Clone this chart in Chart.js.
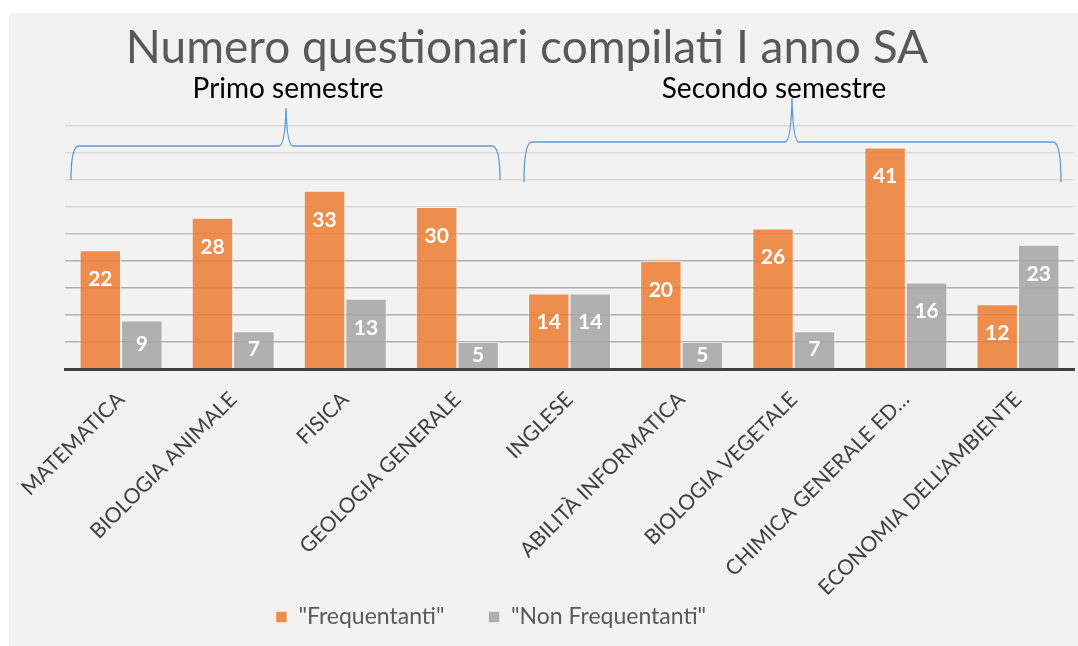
<!DOCTYPE html>
<html>
<head>
<meta charset="utf-8">
<script src="https://cdn.jsdelivr.net/npm/chart.js@4.4.1/dist/chart.umd.min.js"></script>
<style>
  html, body { margin: 0; padding: 0; background: #fff; overflow: hidden; }
  #wrap { width: 1078px; height: 646px; }
  canvas { display: block; }
</style>
</head>
<body>
<div id="wrap"><canvas id="chart" width="1078" height="646"></canvas></div>
<script>
// ---------------- DATI ----------------
const courses = [
  'MATEMATICA', 'BIOLOGIA ANIMALE', 'FISICA', 'GEOLOGIA GENERALE',
  'INGLESE', 'ABILITÀ INFORMATICA', 'BIOLOGIA VEGETALE',
  'CHIMICA GENERALE ED…', "ECONOMIA DELL'AMBIENTE"
];
const frequentanti = [22, 28, 33, 30, 14, 20, 26, 41, 12];
const nonFrequentanti = [9, 7, 13, 5, 14, 5, 7, 16, 23];
const seriesNames = ['"Frequentanti"', '"Non Frequentanti"'];
const semesters = ['Primo semestre', 'Secondo semestre'];
const chartTitle = 'Numero questionari compilati I anno SA';

const FONT = 'Lato, "Open Sans", sans-serif';

// sfondo grigio del pannello
const panelBg = {
  id: 'panelBg',
  beforeDraw(chart) {
    const { ctx, width, height } = chart;
    ctx.save();
    ctx.fillStyle = '#ffffff';
    ctx.fillRect(0, 0, width, height);
    ctx.fillStyle = '#f2f2f2';
    ctx.fillRect(9, 13, width - 9, height - 13);
    ctx.restore();
  }
};

// sposta la legenda come nell'originale (centro x 491, testo a y 617)
const legendShift = {
  id: 'legendShift',
  afterLayout(chart) {
    const lg = chart.legend;
    if (!lg) return;
    const lab = lg.options.labels;
    const itemH = Math.max(lab.boxHeight, lab.font.size);
    const dx = 491 - (lg.left + lg.right) / 2;
    const dy = 617 - (lg.top + lab.padding + itemH / 2);
    lg.left += dx; lg.right += dx;
    lg.top += dy; lg.bottom += dy;
  }
};

// etichette bianche dentro le barre
const barLabels = {
  id: 'barLabels',
  afterDatasetsDraw(chart) {
    const { ctx } = chart;
    ctx.save();
    ctx.fillStyle = '#ffffff';
    ctx.font = 'bold 21px ' + FONT;
    ctx.textAlign = 'center';
    ctx.textBaseline = 'middle';
    chart.data.datasets.forEach((ds, di) => {
      chart.getDatasetMeta(di).data.forEach((bar, i) => {
        const top = bar.y, base = bar.base;
        const y = Math.min(top + 29, (top + base) / 2);
        ctx.fillText(String(ds.data[i]), bar.x, y);
      });
    });
    ctx.restore();
  }
};

// titolo, semestri e parentesi graffe
function drawBrace(ctx, x1, x2, peakX, yLine, yBottom, yPeak) {
  const r = 8;
  ctx.beginPath();
  ctx.moveTo(x1, yBottom);
  ctx.quadraticCurveTo(x1, yLine, x1 + r, yLine);
  ctx.lineTo(peakX - 7, yLine);
  ctx.quadraticCurveTo(peakX - 1, yLine, peakX, yPeak);
  ctx.quadraticCurveTo(peakX + 1, yLine, peakX + 7, yLine);
  ctx.lineTo(x2 - r, yLine);
  ctx.quadraticCurveTo(x2, yLine, x2, yBottom);
  ctx.stroke();
}

const annotations = {
  id: 'annotations',
  afterDraw(chart) {
    const { ctx } = chart;
    ctx.save();
    ctx.fillStyle = '#595959';
    ctx.font = '46px ' + FONT;
    ctx.textAlign = 'center';
    ctx.textBaseline = 'alphabetic';
    ctx.fillText(chartTitle, 527, 63);

    ctx.fillStyle = '#000000';
    ctx.font = '28px ' + FONT;
    ctx.fillText(semesters[0], 288, 98);
    ctx.fillText(semesters[1], 774, 98);

    ctx.strokeStyle = '#5b9bd5';
    ctx.lineWidth = 1.3;
    drawBrace(ctx, 71, 500, 286, 146, 180, 108);
    drawBrace(ctx, 524, 1061, 792, 142, 182, 98);
    ctx.restore();
  }
};

const ctx = document.getElementById('chart').getContext('2d');

new Chart(ctx, {
  type: 'bar',
  data: {
    labels: courses,
    datasets: [{
      label: seriesNames[0],
      data: frequentanti,
      backgroundColor: 'rgba(237,125,49,0.85)',
      borderColor: 'rgba(255,255,255,0.45)',
      borderWidth: 1,
      categoryPercentage: 0.74,
      barPercentage: 1
    }, {
      label: seriesNames[1],
      data: nonFrequentanti,
      backgroundColor: 'rgba(165,165,165,0.85)',
      borderColor: 'rgba(255,255,255,0.45)',
      borderWidth: 1,
      categoryPercentage: 0.74,
      barPercentage: 1
    }]
  },
  options: {
    responsive: false,
    animation: false,
    // padding in basso negativo: le etichette inclinate scendono fino alla legenda
    layout: { padding: { top: 126, left: 65, right: 4, bottom: -60 } },
    scales: {
      x: {
        grid: { display: false, drawTicks: false },
        border: { display: true, color: '#404040', width: 3 },
        ticks: {
          autoSkip: false,
          minRotation: 45,
          maxRotation: 45,
          padding: 18,
          color: '#404040',
          font: { family: FONT, size: 21 }
        },
        afterFit(scale) { scale.height = 260; }
      },
      y: {
        min: 0,
        max: 45,
        ticks: { display: false, stepSize: 5 },
        border: { display: false },
        grid: {
          drawTicks: false,
          lineWidth: 1.5,
          color: (c) => c.tick.value <= 20 ? '#b0b0b0' : (c.tick.value <= 25 ? '#c4c4c4' : '#d9d9d9')
        }
      }
    },
    plugins: {
      title: { display: false },
      tooltip: { enabled: false },
      legend: {
        display: true,
        position: 'bottom',
        labels: {
          boxWidth: 11,
          boxHeight: 11,
          padding: 44,
          color: '#595959',
          font: { family: FONT, size: 23 }
        }
      }
    }
  },
  plugins: [panelBg, legendShift, barLabels, annotations]
});
</script>
</body>
</html>
